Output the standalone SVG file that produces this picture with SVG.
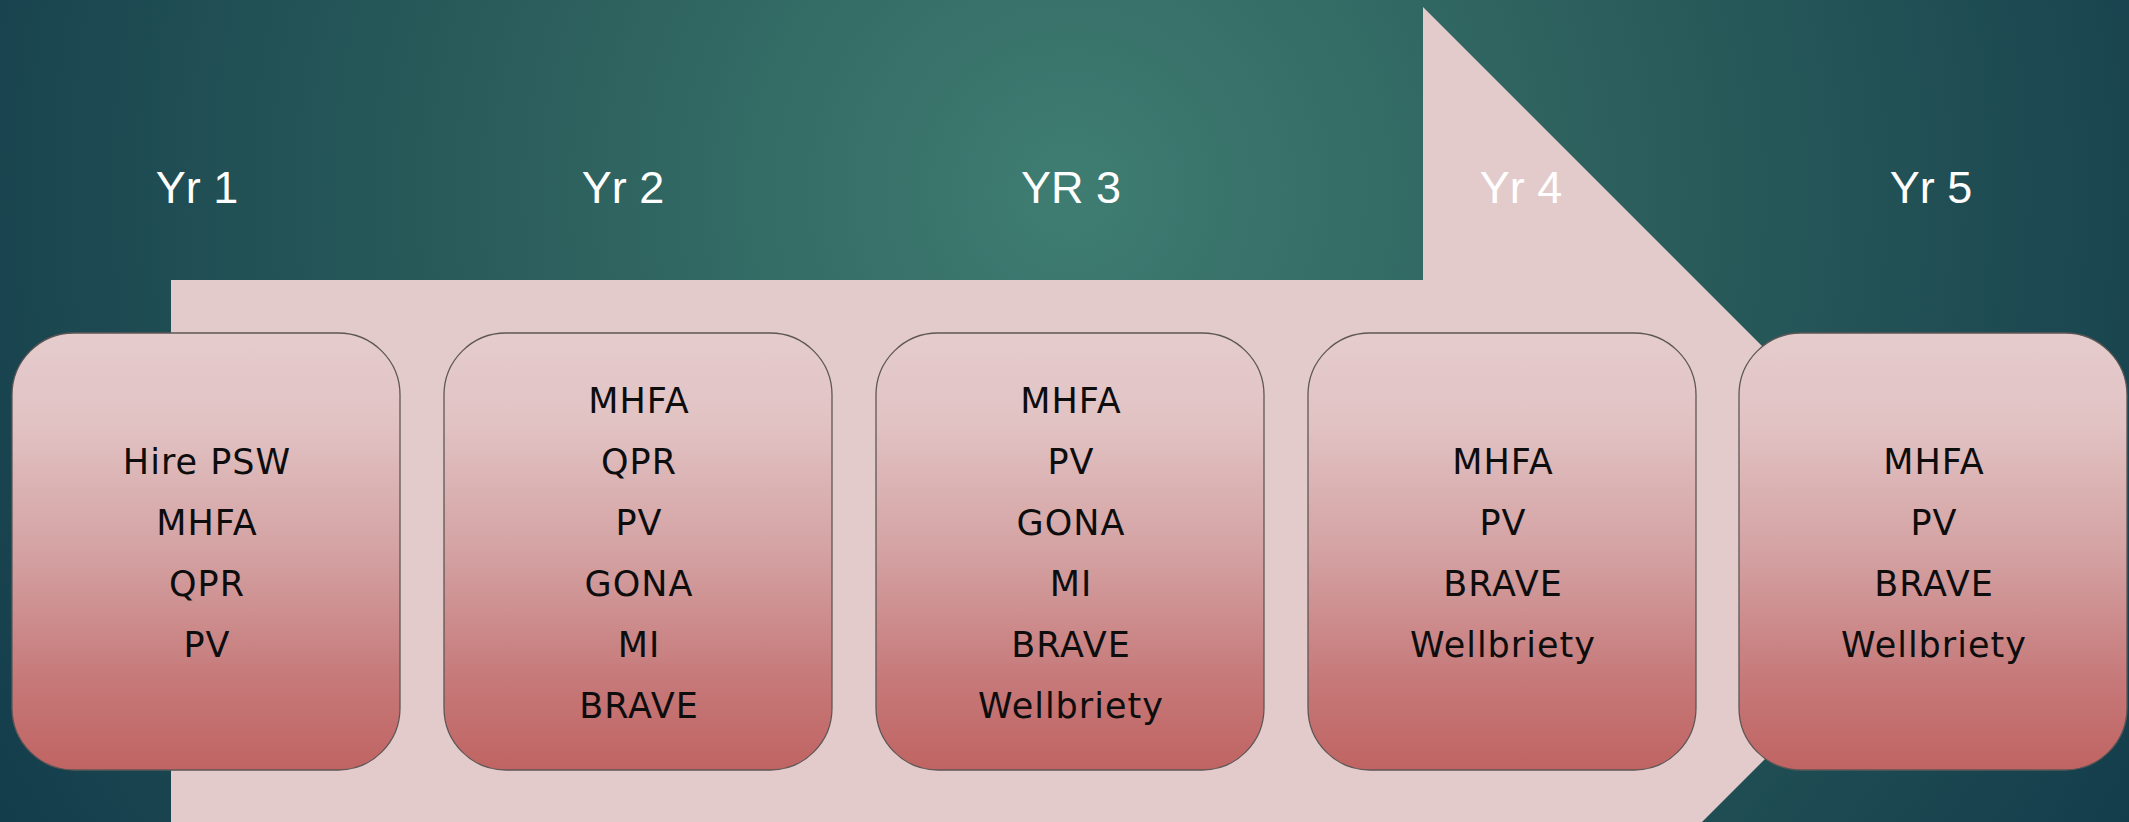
<svg xmlns="http://www.w3.org/2000/svg" width="2129" height="822" viewBox="0 0 2129 822">
  <defs>
    <radialGradient id="bg" cx="1070" cy="190" r="1250" gradientUnits="userSpaceOnUse">
      <stop offset="0" stop-color="#3f7d72"/>
      <stop offset="0.45" stop-color="#2b5e5c"/>
      <stop offset="1" stop-color="#133c4b"/>
    </radialGradient>
    <linearGradient id="boxg" x1="0" y1="0" x2="0" y2="1">
      <stop offset="0" stop-color="#e5cccd"/>
      <stop offset="0.2" stop-color="#e2c3c4"/>
      <stop offset="0.5" stop-color="#d4a2a3"/>
      <stop offset="0.8" stop-color="#c67878"/>
      <stop offset="1" stop-color="#c06463"/>
    </linearGradient>
    <style>
      .box { fill: url(#boxg); stroke: #5e5656; stroke-width: 1.3; }
      .item { font-family: "DejaVu Sans", "Liberation Sans", sans-serif; font-size: 35px; fill: #0d0d0d; text-anchor: middle; letter-spacing: 1px; }
      .yr { font-family: "Liberation Sans", "DejaVu Sans", sans-serif; font-size: 45px; fill: #ffffff; text-anchor: middle; }
    </style>
  </defs>
  <rect x="0" y="0" width="2129" height="822" fill="url(#bg)"/>
  <g id="connectors">
    <path id="arrow" d="M171,280 L1423,280 L1423,7 L1970,554 L1424,1100 L1424,828 L171,828 Z" fill="#e3cbcb"/>
  </g>
  <g id="labels">
    <text class="yr" x="197" y="203">Yr 1</text>
    <text class="yr" x="623" y="203">Yr 2</text>
    <text class="yr" x="1071" y="203">YR 3</text>
    <text class="yr" x="1521" y="203">Yr 4</text>
    <text class="yr" x="1931" y="203">Yr 5</text>
  </g>
  <g id="box1">
    <rect class="box" x="12" y="333" width="388" height="437" rx="62" ry="62"/>
    <text class="item" x="207" y="474">Hire PSW</text>
    <text class="item" x="207" y="535">MHFA</text>
    <text class="item" x="207" y="596">QPR</text>
    <text class="item" x="207" y="657">PV</text>
  </g>
  <g id="box2">
    <rect class="box" x="444" y="333" width="388" height="437" rx="62" ry="62"/>
    <text class="item" x="639" y="413">MHFA</text>
    <text class="item" x="639" y="474">QPR</text>
    <text class="item" x="639" y="535">PV</text>
    <text class="item" x="639" y="596">GONA</text>
    <text class="item" x="639" y="657">MI</text>
    <text class="item" x="639" y="718">BRAVE</text>
  </g>
  <g id="box3">
    <rect class="box" x="876" y="333" width="388" height="437" rx="62" ry="62"/>
    <text class="item" x="1071" y="413">MHFA</text>
    <text class="item" x="1071" y="474">PV</text>
    <text class="item" x="1071" y="535">GONA</text>
    <text class="item" x="1071" y="596">MI</text>
    <text class="item" x="1071" y="657">BRAVE</text>
    <text class="item" x="1071" y="718">Wellbriety</text>
  </g>
  <g id="box4">
    <rect class="box" x="1308" y="333" width="388" height="437" rx="62" ry="62"/>
    <text class="item" x="1503" y="474">MHFA</text>
    <text class="item" x="1503" y="535">PV</text>
    <text class="item" x="1503" y="596">BRAVE</text>
    <text class="item" x="1503" y="657">Wellbriety</text>
  </g>
  <g id="box5">
    <rect class="box" x="1739" y="333" width="388" height="437" rx="62" ry="62"/>
    <text class="item" x="1934" y="474">MHFA</text>
    <text class="item" x="1934" y="535">PV</text>
    <text class="item" x="1934" y="596">BRAVE</text>
    <text class="item" x="1934" y="657">Wellbriety</text>
  </g>
</svg>
